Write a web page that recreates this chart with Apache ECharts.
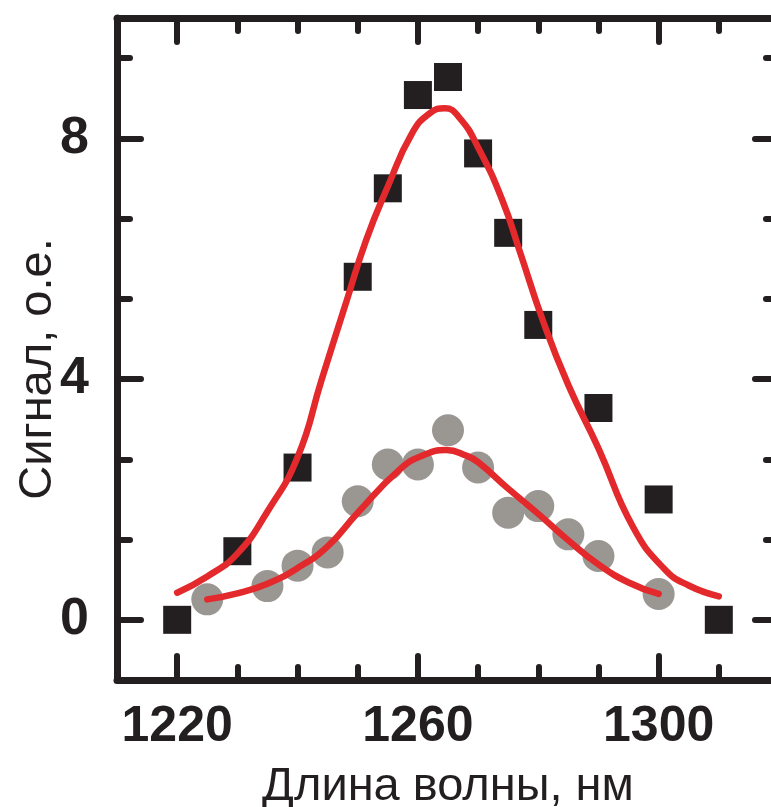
<!DOCTYPE html>
<html>
<head>
<meta charset="utf-8">
<script src="https://cdn.jsdelivr.net/npm/echarts@6/dist/echarts.min.js"></script>
<style>
html,body{margin:0;padding:0;background:#fff;overflow:hidden;}
#chart{width:771px;height:807px;}
</style>
</head>
<body>
<div id="chart"></div>
<script>
// ---- data ----
const squaresX = [1220, 1230, 1240, 1250, 1255, 1260, 1265, 1270, 1275, 1280, 1290, 1300, 1310];
const squaresY = [0.00, 1.14, 2.53, 5.70, 7.17, 8.72, 9.02, 7.75, 6.43, 4.90, 3.52, 2.00, 0.00];

const circlesX = [1225, 1235, 1240, 1245, 1250, 1255, 1260, 1265, 1270, 1275, 1280, 1285, 1290, 1300];
const circlesY = [0.34, 0.56, 0.90, 1.12, 1.97, 2.58, 2.58, 3.15, 2.53, 1.78, 1.89, 1.42, 1.06, 0.43];

const fitBigX = [1220, 1225, 1230, 1235, 1240, 1244, 1248, 1251.4, 1255, 1259, 1262, 1264.5, 1267, 1270, 1274, 1277, 1280.7, 1285, 1290, 1295.7, 1301, 1305, 1310];
const fitBigY = [0.45, 0.72, 1.10, 1.80, 2.70, 3.99, 5.25, 6.31, 7.20, 8.08, 8.42, 8.50, 8.33, 7.85, 6.98, 6.10, 4.99, 3.90, 2.85, 1.55, 0.84, 0.57, 0.39];

const fitSmallX = [1225, 1230, 1235, 1240, 1245, 1250, 1257, 1261, 1264.7, 1268, 1270, 1275, 1280, 1285, 1290, 1295, 1300];
const fitSmallY = [0.34, 0.44, 0.60, 0.86, 1.22, 1.78, 2.50, 2.74, 2.82, 2.73, 2.62, 2.18, 1.76, 1.32, 0.92, 0.62, 0.43];

const xMajorTicks = [1220, 1260, 1300];
const xMinorTicks = [1230, 1240, 1250, 1270, 1280, 1290, 1310];
const yMajorTicks = [0, 4, 8];
const yMinorTicks = [4/3, 8/3, 16/3, 20/3, 28/3];

const xTitle = 'Длина волны, нм';
const yTitle = 'Сигнал, о.е.';

// ---- chart ----
const ink = '#231f20';
const red = '#e3292b';
const gray = '#9a9793';
const font = 'Liberation Sans, Arial, sans-serif';
const zip = (xs, ys) => xs.map((x, i) => [x, ys[i]]);

const X_MIN = 1210, X_MAX = 1320, Y_MIN = -1, Y_MAX = 10;

function xAx(pos, ticks, len, showLine, labels) {
  return {
    type: 'value', position: pos, min: X_MIN, max: X_MAX,
    axisLine: {show: showLine, onZero: false, lineStyle: {color: ink, width: 7}},
    axisTick: {show: true, inside: true, length: len, customValues: ticks,
      lineStyle: {color: ink, width: 6, cap: 'round'}},
    axisLabel: labels ? {show: true, customValues: ticks, margin: 22,
      formatter: v => String(v),
      color: ink, fontFamily: font, fontWeight: 'bold', fontSize: 50} : {show: false},
    splitLine: {show: false}
  };
}
function yAx(pos, ticks, len, showLine, labels) {
  return {
    type: 'value', position: pos, min: Y_MIN, max: Y_MAX,
    axisLine: {show: showLine, onZero: false, lineStyle: {color: ink, width: 7}},
    axisTick: {show: true, inside: true, length: len, customValues: ticks,
      lineStyle: {color: ink, width: 6, cap: 'round'}},
    axisLabel: labels ? {show: true, customValues: ticks, margin: 28,
      formatter: v => String(v),
      color: ink, fontFamily: font, fontWeight: 'bold', fontSize: 52} : {show: false},
    splitLine: {show: false}
  };
}

const xA0 = xAx('bottom', xMajorTicks, 24, true, true);
xA0.name = xTitle; xA0.nameLocation = 'middle'; xA0.nameGap = 84; xA0.nameMoveOverlap = false;
xA0.nameTextStyle = {color: ink, fontFamily: font, fontSize: 47, lineHeight: 47};
const yA0 = yAx('left', yMajorTicks, 24, true, true);
yA0.name = yTitle; yA0.nameLocation = 'middle'; yA0.nameGap = 55; yA0.nameMoveOverlap = false;
yA0.nameTextStyle = {color: ink, fontFamily: font, fontSize: 47, padding: [0, 40, 0, 0]};

const chart = echarts.init(document.getElementById('chart'), null, {renderer: 'canvas'});
chart.setOption({
  backgroundColor: '#fff',
  animation: false,
  grid: {left: 117, top: 18, width: 662, height: 662, containLabel: false, outerBoundsMode: 'none'},
  xAxis: [
    xA0,
    xAx('bottom', xMinorTicks, 13, false, false),
    xAx('top', xMajorTicks, 24, true, false),
    xAx('top', xMinorTicks, 13, false, false)
  ],
  yAxis: [
    yA0,
    yAx('left', yMinorTicks, 13, false, false),
    yAx('right', yMajorTicks, 24, true, false),
    yAx('right', yMinorTicks, 13, false, false)
  ],
  series: [
    {type: 'scatter', name: 'circles', data: zip(circlesX, circlesY), symbol: 'circle', symbolSize: 32,
      itemStyle: {color: gray, opacity: 1}, z: 2},
    {type: 'scatter', name: 'squares', data: zip(squaresX, squaresY), symbol: 'rect', symbolSize: 28,
      itemStyle: {color: ink, opacity: 1}, z: 3},
    {type: 'line', name: 'fitBig', data: zip(fitBigX, fitBigY), smooth: 0.5, showSymbol: false,
      lineStyle: {color: red, width: 6.5, cap: 'round'}, z: 4},
    {type: 'line', name: 'fitSmall', data: zip(fitSmallX, fitSmallY), smooth: 0.5, showSymbol: false,
      lineStyle: {color: red, width: 6.5, cap: 'round'}, z: 4}
  ]
});
</script>
</body>
</html>
